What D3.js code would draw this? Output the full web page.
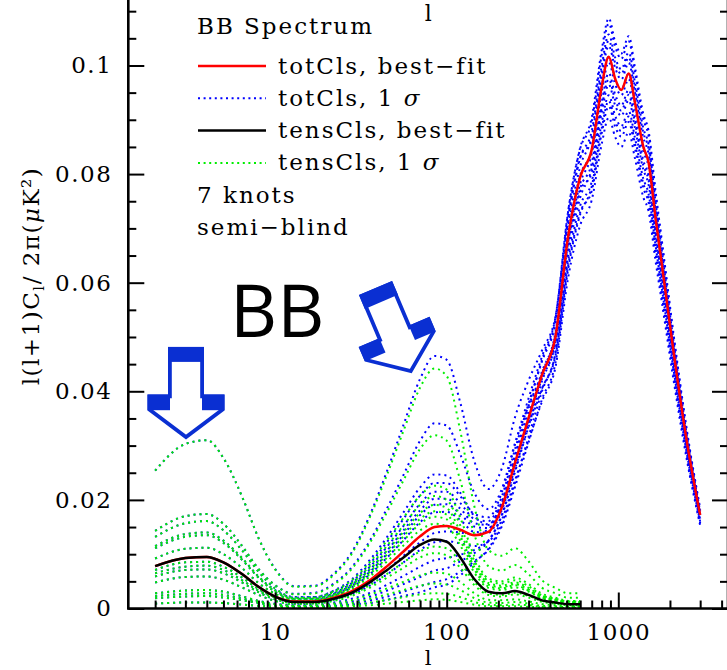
<!DOCTYPE html>
<html>
<head>
<meta charset="utf-8">
<script src="https://cdn.jsdelivr.net/npm/d3@7"></script>
<style>
  html, body { margin: 0; padding: 0; background: #fff; }
  svg { display: block; }
</style>
</head>
<body>
<svg id="chart" width="727" height="670" font-family="DejaVu Serif, serif"></svg>
<script>
// Multipole grid (the first 27 nodes also carry the tensor curves, which stop at l = 600)
const ell = [2, 3, 4, 5, 6.5, 8, 10, 13, 17, 22, 28, 36, 45, 56, 70, 85, 100, 120, 145, 175, 210, 250, 300, 360, 430, 510, 600,
             700, 800, 880, 960, 1040, 1150, 1250, 1400, 1500, 1650, 1800, 2100, 2500, 3000];

// Total BB spectrum, best fit (uK^2)
const totBest = [0.0078, 0.0093, 0.0095, 0.0085, 0.0062, 0.0040, 0.0022, 0.0013, 0.0013, 0.0020, 0.0032, 0.0053, 0.0078, 0.0105,
                 0.0133, 0.0150, 0.0152, 0.0145, 0.0135, 0.0141, 0.0187, 0.0268, 0.0351, 0.0431, 0.0500, 0.0685, 0.0795,
                 0.0845, 0.0961, 0.1016, 0.0975, 0.0955, 0.0985, 0.0932, 0.0850, 0.0822, 0.0718, 0.0630, 0.0472, 0.0310, 0.0172];

// Tensor BB spectrum, best fit
const tensBest = [0.0078, 0.0093, 0.0095, 0.0085, 0.0062, 0.0040, 0.0022, 0.0012, 0.0012, 0.0018, 0.0029, 0.0049, 0.0071, 0.0094,
                  0.0117, 0.0127, 0.0123, 0.0094, 0.0054, 0.0031, 0.0028, 0.0032, 0.0025, 0.0015, 0.0011, 0.0008, 0.0008];

// Tensor BB spectra within 1 sigma
const tensSigma = [
  [0.0254,0.0303,0.0310,0.0277,0.0202,0.0130,0.0072,0.0040,0.0041,0.0062,0.0101,0.0171,0.0247,0.0327,0.0407,0.0442,0.0428,0.0327,0.0188,0.0108,0.0097,0.0111,0.0087,0.0052,0.0038,0.0028,0.0028],
  [0.0143,0.0170,0.0174,0.0156,0.0113,0.0073,0.0043,0.0026,0.0028,0.0044,0.0073,0.0123,0.0178,0.0236,0.0294,0.0319,0.0309,0.0236,0.0136,0.0078,0.0070,0.0080,0.0063,0.0038,0.0028,0.0020,0.0020],
  [0.0132,0.0157,0.0161,0.0144,0.0105,0.0068,0.0037,0.0020,0.0020,0.0030,0.0047,0.0080,0.0116,0.0153,0.0191,0.0207,0.0200,0.0153,0.0088,0.0051,0.0046,0.0052,0.0041,0.0024,0.0018,0.0013,0.0013],
  [0.0115,0.0137,0.0140,0.0125,0.0091,0.0059,0.0033,0.0019,0.0020,0.0032,0.0052,0.0087,0.0126,0.0167,0.0208,0.0226,0.0219,0.0167,0.0096,0.0055,0.0050,0.0057,0.0045,0.0027,0.0020,0.0014,0.0014],
  [0.0111,0.0132,0.0135,0.0121,0.0088,0.0057,0.0031,0.0017,0.0017,0.0025,0.0041,0.0069,0.0100,0.0133,0.0165,0.0179,0.0173,0.0133,0.0076,0.0044,0.0039,0.0045,0.0035,0.0021,0.0016,0.0011,0.0011],
  [0.0092,0.0110,0.0112,0.0100,0.0073,0.0047,0.0027,0.0016,0.0017,0.0026,0.0044,0.0074,0.0107,0.0141,0.0176,0.0191,0.0185,0.0141,0.0081,0.0047,0.0042,0.0048,0.0038,0.0023,0.0017,0.0012,0.0012],
  [0.0071,0.0085,0.0086,0.0077,0.0056,0.0036,0.0021,0.0013,0.0014,0.0022,0.0036,0.0060,0.0087,0.0116,0.0144,0.0156,0.0151,0.0116,0.0066,0.0038,0.0034,0.0039,0.0031,0.0018,0.0014,0.0010,0.0010],
  [0.0065,0.0077,0.0079,0.0071,0.0051,0.0033,0.0020,0.0013,0.0014,0.0023,0.0039,0.0065,0.0094,0.0125,0.0156,0.0169,0.0164,0.0125,0.0072,0.0041,0.0037,0.0043,0.0033,0.0020,0.0015,0.0011,0.0011],
  [0.0059,0.0071,0.0072,0.0065,0.0047,0.0030,0.0017,0.0010,0.0010,0.0016,0.0026,0.0044,0.0064,0.0085,0.0105,0.0114,0.0111,0.0085,0.0049,0.0028,0.0025,0.0029,0.0023,0.0014,0.0010,0.0007,0.0007],
  [0.0048,0.0058,0.0059,0.0053,0.0038,0.0025,0.0014,0.0008,0.0009,0.0014,0.0023,0.0039,0.0057,0.0075,0.0094,0.0102,0.0098,0.0075,0.0043,0.0025,0.0022,0.0026,0.0020,0.0012,0.0009,0.0006,0.0006],
  [0.0028,0.0033,0.0034,0.0031,0.0022,0.0014,0.0008,0.0005,0.0006,0.0009,0.0015,0.0026,0.0037,0.0049,0.0061,0.0066,0.0064,0.0049,0.0028,0.0016,0.0015,0.0017,0.0013,0.0008,0.0006,0.0004,0.0004],
  [0.0023,0.0027,0.0028,0.0025,0.0018,0.0012,0.0007,0.0004,0.0004,0.0006,0.0010,0.0018,0.0026,0.0034,0.0042,0.0046,0.0044,0.0034,0.0019,0.0011,0.0010,0.0012,0.0009,0.0005,0.0004,0.0003,0.0003],
  [0.0019,0.0022,0.0023,0.0020,0.0015,0.0010,0.0005,0.0003,0.0003,0.0004,0.0006,0.0011,0.0016,0.0021,0.0026,0.0028,0.0027,0.0021,0.0012,0.0007,0.0006,0.0007,0.0006,0.0003,0.0002,0.0002,0.0002],
  [0.0009,0.0011,0.0011,0.0010,0.0007,0.0005,0.0003,0.0002,0.0002,0.0002,0.0004,0.0006,0.0009,0.0012,0.0015,0.0017,0.0016,0.0012,0.0007,0.0004,0.0004,0.0004,0.0003,0.0002,0.0001,0.0001,0.0001]
];

// Total BB spectra within 1 sigma
const totSigma = [
  [0.0254,0.0303,0.0310,0.0277,0.0202,0.0130,0.0073,0.0041,0.0042,0.0064,0.0104,0.0175,0.0254,0.0338,0.0423,0.0465,0.0458,0.0379,0.0271,0.0220,0.0259,0.0352,0.0420,0.0476,0.0537,0.0719,0.0831,0.0862,0.0980,0.1036,0.0995,0.0974,0.1005,0.0951,0.0867,0.0838,0.0732,0.0643,0.0481,0.0316,0.0175],
  [0.0143,0.0170,0.0174,0.0156,0.0113,0.0073,0.0043,0.0027,0.0029,0.0046,0.0076,0.0127,0.0185,0.0246,0.0309,0.0341,0.0337,0.0284,0.0213,0.0183,0.0221,0.0304,0.0373,0.0433,0.0493,0.0663,0.0768,0.0803,0.0913,0.0965,0.0926,0.0907,0.0936,0.0885,0.0808,0.0781,0.0682,0.0599,0.0448,0.0295,0.0163],
  [0.0132,0.0157,0.0161,0.0144,0.0105,0.0068,0.0037,0.0021,0.0021,0.0032,0.0050,0.0084,0.0123,0.0165,0.0208,0.0231,0.0231,0.0207,0.0174,0.0168,0.0215,0.0302,0.0387,0.0465,0.0536,0.0731,0.0847,0.0896,0.1019,0.1077,0.1034,0.1012,0.1044,0.0988,0.0901,0.0871,0.0761,0.0668,0.0500,0.0329,0.0182],
  [0.0115,0.0137,0.0140,0.0125,0.0091,0.0059,0.0034,0.0020,0.0021,0.0033,0.0054,0.0091,0.0132,0.0177,0.0223,0.0247,0.0245,0.0213,0.0170,0.0155,0.0195,0.0272,0.0342,0.0406,0.0465,0.0630,0.0730,0.0769,0.0875,0.0925,0.0887,0.0869,0.0896,0.0848,0.0774,0.0748,0.0653,0.0573,0.0430,0.0282,0.0157],
  [0.0111,0.0132,0.0135,0.0121,0.0088,0.0057,0.0031,0.0018,0.0018,0.0027,0.0044,0.0073,0.0107,0.0144,0.0181,0.0202,0.0202,0.0184,0.0157,0.0154,0.0198,0.0281,0.0361,0.0437,0.0505,0.0688,0.0798,0.0845,0.0961,0.1016,0.0975,0.0955,0.0985,0.0932,0.0850,0.0822,0.0718,0.0630,0.0472,0.0310,0.0172],
  [0.0092,0.0110,0.0112,0.0100,0.0073,0.0047,0.0027,0.0017,0.0018,0.0028,0.0047,0.0078,0.0114,0.0152,0.0193,0.0215,0.0215,0.0194,0.0165,0.0161,0.0207,0.0293,0.0377,0.0456,0.0526,0.0716,0.0830,0.0879,0.0999,0.1057,0.1014,0.0993,0.1024,0.0969,0.0884,0.0855,0.0747,0.0655,0.0491,0.0322,0.0179],
  [0.0071,0.0085,0.0086,0.0077,0.0056,0.0036,0.0021,0.0013,0.0014,0.0023,0.0039,0.0064,0.0094,0.0126,0.0159,0.0177,0.0178,0.0163,0.0141,0.0140,0.0182,0.0258,0.0334,0.0405,0.0469,0.0640,0.0742,0.0786,0.0894,0.0945,0.0907,0.0888,0.0916,0.0867,0.0791,0.0764,0.0668,0.0586,0.0439,0.0288,0.0160],
  [0.0065,0.0077,0.0079,0.0071,0.0051,0.0033,0.0020,0.0014,0.0015,0.0025,0.0042,0.0069,0.0101,0.0136,0.0172,0.0191,0.0192,0.0174,0.0151,0.0148,0.0191,0.0272,0.0349,0.0424,0.0489,0.0668,0.0774,0.0820,0.0932,0.0986,0.0946,0.0926,0.0955,0.0904,0.0825,0.0797,0.0696,0.0611,0.0458,0.0301,0.0167],
  [0.0059,0.0071,0.0072,0.0065,0.0047,0.0030,0.0017,0.0011,0.0011,0.0018,0.0029,0.0048,0.0071,0.0097,0.0122,0.0139,0.0142,0.0140,0.0136,0.0146,0.0195,0.0282,0.0372,0.0459,0.0533,0.0731,0.0849,0.0904,0.1028,0.1087,0.1043,0.1022,0.1054,0.0997,0.0910,0.0880,0.0768,0.0674,0.0505,0.0332,0.0184],
  [0.0048,0.0058,0.0059,0.0053,0.0038,0.0025,0.0014,0.0009,0.0010,0.0016,0.0026,0.0043,0.0063,0.0085,0.0108,0.0122,0.0124,0.0120,0.0115,0.0123,0.0164,0.0236,0.0310,0.0382,0.0444,0.0609,0.0706,0.0752,0.0855,0.0904,0.0868,0.0850,0.0877,0.0829,0.0757,0.0732,0.0639,0.0561,0.0420,0.0276,0.0153],
  [0.0028,0.0033,0.0034,0.0031,0.0022,0.0014,0.0009,0.0006,0.0007,0.0011,0.0018,0.0029,0.0044,0.0060,0.0077,0.0089,0.0093,0.0099,0.0108,0.0125,0.0172,0.0251,0.0336,0.0420,0.0490,0.0674,0.0783,0.0837,0.0951,0.1006,0.0965,0.0945,0.0975,0.0923,0.0842,0.0814,0.0711,0.0624,0.0467,0.0307,0.0170],
  [0.0023,0.0027,0.0028,0.0025,0.0018,0.0012,0.0007,0.0005,0.0005,0.0008,0.0013,0.0022,0.0033,0.0045,0.0058,0.0070,0.0074,0.0087,0.0102,0.0124,0.0174,0.0255,0.0345,0.0433,0.0508,0.0700,0.0814,0.0870,0.0990,0.1046,0.1004,0.0984,0.1015,0.0960,0.0876,0.0847,0.0740,0.0649,0.0486,0.0319,0.0177],
  [0.0019,0.0022,0.0023,0.0020,0.0015,0.0010,0.0005,0.0004,0.0004,0.0006,0.0009,0.0015,0.0022,0.0031,0.0041,0.0049,0.0054,0.0068,0.0087,0.0108,0.0152,0.0224,0.0306,0.0386,0.0452,0.0625,0.0726,0.0777,0.0884,0.0935,0.0897,0.0879,0.0906,0.0857,0.0782,0.0756,0.0661,0.0580,0.0434,0.0285,0.0158],
  [0.0009,0.0011,0.0011,0.0010,0.0007,0.0005,0.0003,0.0003,0.0003,0.0004,0.0007,0.0010,0.0016,0.0023,0.0030,0.0039,0.0044,0.0061,0.0085,0.0110,0.0157,0.0231,0.0316,0.0401,0.0470,0.0651,0.0757,0.0811,0.0923,0.0975,0.0936,0.0917,0.0946,0.0895,0.0816,0.0789,0.0689,0.0605,0.0453,0.0298,0.0165]
];

// Axis ticks
const yMajor = [0, 0.02, 0.04, 0.06, 0.08, 0.1];
const yLabels = ["0", "0.02", "0.04", "0.06", "0.08", "0.1"];
const yMinor = [0.005, 0.01, 0.015, 0.025, 0.03, 0.035, 0.045, 0.05, 0.055, 0.065, 0.07, 0.075, 0.085, 0.09, 0.095, 0.105, 0.11];
const xMajor = [10, 100, 1000];
const xLabels = ["10", "100", "1000"];
const xMinor = [2, 3, 4, 5, 6, 7, 8, 9, 20, 30, 40, 50, 60, 70, 80, 90, 200, 300, 400, 500, 600, 700, 800, 900, 2000, 3000, 4000];

// Legend entries
const legendItems = [
  { label: "totCls, best\u2212fit", sigma: false, color: "#ff0000", dotted: false },
  { label: "totCls, 1 ", sigma: true, color: "#0000ff", dotted: true },
  { label: "tensCls, best\u2212fit", sigma: false, color: "#000000", dotted: false },
  { label: "tensCls, 1 ", sigma: true, color: "#00ee00", dotted: true }
];

(function draw() {
  const W = 727, H = 670;
  const plotLeft = 128.3, plotRight = 728, plotBottom = 608.5, plotTop = -2.4;

  const svg = d3.select("#chart");
  svg.append("rect").attr("width", W).attr("height", H).attr("fill", "#fff");

  const x = d3.scaleLog().domain([1.395, 4358]).range([plotLeft, plotRight]);
  const y = d3.scaleLinear().domain([0, 0.1125]).range([plotBottom, plotTop]);

  const line = d3.line()
    .x(d => x(d[0]))
    .y(d => y(d[1]))
    .curve(d3.curveMonotoneX);

  const pairs = vals => vals.map((v, i) => [ell[i], v]);

  const BLUE = "#0000ff", GREEN = "#00ee00";
  const curves = svg.append("g");

  // 1-sigma totals (dotted blue)
  curves.selectAll("path.tot").data(totSigma).join("path")
    .attr("class", "tot")
    .attr("d", d => line(pairs(d)))
    .attr("fill", "none").attr("stroke", BLUE)
    .attr("stroke-width", 2).attr("stroke-dasharray", "2,4");

  // 1-sigma tensors (dotted green)
  curves.selectAll("path.tens").data(tensSigma).join("path")
    .attr("class", "tens")
    .attr("d", d => line(pairs(d)))
    .attr("fill", "none").attr("stroke", GREEN)
    .attr("stroke-width", 2).attr("stroke-dasharray", "2,4");

  // Best fits
  curves.append("path").attr("d", line(pairs(totBest)))
    .attr("fill", "none").attr("stroke", "#ff0000").attr("stroke-width", 2.5);
  curves.append("path").attr("d", line(pairs(tensBest)))
    .attr("fill", "none").attr("stroke", "#000").attr("stroke-width", 2.5);

  // Axes (ticks point into the frame)
  const fontAxis = g => g.selectAll("text")
    .attr("font-family", "DejaVu Serif, serif").attr("font-size", 23)
    .attr("letter-spacing", "1.5px").attr("fill", "#000");

  const axB = svg.append("g").attr("transform", `translate(0,${plotBottom})`);
  axB.append("g").call(d3.axisBottom(x).tickValues(xMajor).tickSize(-16).tickPadding(15)
    .tickFormat((d, i) => xLabels[i])).call(fontAxis);
  axB.append("g").call(d3.axisBottom(x).tickValues(xMinor).tickSize(-8).tickFormat(""));

  const axL = svg.append("g").attr("transform", `translate(${plotLeft},0)`);
  axL.append("g").call(d3.axisLeft(y).tickValues(yMajor).tickSize(-16).tickPadding(16)
    .tickFormat((d, i) => yLabels[i])).call(fontAxis);
  axL.append("g").call(d3.axisLeft(y).tickValues(yMinor).tickSize(-8).tickFormat(""));

  const axR = svg.append("g").attr("transform", `translate(${plotRight},0)`);
  axR.append("g").call(d3.axisRight(y).tickValues(yMajor).tickSize(-16).tickFormat(""));
  axR.append("g").call(d3.axisRight(y).tickValues(yMinor).tickSize(-8).tickFormat(""));

  svg.selectAll(".domain").remove();
  svg.selectAll(".tick line").attr("stroke", "#000").attr("stroke-width", 2);

  // Frame
  svg.append("path")
    .attr("d", `M${plotLeft},${plotTop} V${plotBottom} H${plotRight} V${plotTop}`)
    .attr("fill", "none").attr("stroke", "#000").attr("stroke-width", 2.6);

  // Axis titles
  svg.append("text").attr("x", (plotLeft + plotRight) / 2).attr("y", 665)
    .attr("text-anchor", "middle").attr("font-size", 21).text("l");
  svg.append("text").attr("x", (plotLeft + plotRight) / 2).attr("y", 21)
    .attr("text-anchor", "middle").attr("font-size", 22).text("l");

  const yt = svg.append("text")
    .attr("transform", "translate(39,276) rotate(-90)")
    .attr("text-anchor", "middle").attr("font-size", 23).attr("letter-spacing", "1.5px");
  yt.append("tspan").text("l(l+1)C");
  yt.append("tspan").attr("font-size", 15).attr("dy", 5).text("l");
  yt.append("tspan").attr("dy", -5).text("/ 2\u03c0(");
  yt.append("tspan").attr("font-style", "italic").text("\u03bc");
  yt.append("tspan").text("K\u00b2)");

  // Legend
  const lg = svg.append("g").attr("font-size", 23).attr("letter-spacing", "2px");
  lg.append("text").attr("x", 197).attr("y", 34).text("BB Spectrum");
  legendItems.forEach((it, i) => {
    const ly = 66 + i * 32.3;
    lg.append("line").attr("x1", 198).attr("x2", 266).attr("y1", ly).attr("y2", ly)
      .attr("stroke", it.color).attr("stroke-width", it.dotted ? 2 : 2.5)
      .attr("stroke-dasharray", it.dotted ? "2,3.6" : null);
    const t = lg.append("text").attr("x", 278).attr("y", ly + 7.5);
    t.append("tspan").text(it.label);
    if (it.sigma) t.append("tspan").attr("font-style", "italic").text("\u03c3");
  });
  lg.append("text").attr("x", 197).attr("y", 202.5).text("7 knots");
  lg.append("text").attr("x", 197).attr("y", 235).text("semi\u2212blind");

  // Big annotation
  svg.append("text").attr("x", 230).attr("y", 337)
    .attr("font-family", "Open Sans, Noto Sans, sans-serif").attr("font-size", 73)
    .text("BB");

  // Hollow block arrows
  const ARROW = "#0a2fd2";
  function blockArrow(g) {
    g.append("path")
      .attr("d", "M-16.1,-90.7 H16.1 V-43.1 H36.6 V-30 L0,-2.4 L-36.6,-30 V-43.1 H-16.1 Z")
      .attr("fill", "#fff").attr("stroke", ARROW).attr("stroke-width", 3.8)
      .attr("stroke-linejoin", "miter");
    g.append("rect").attr("x", -18).attr("y", -92.6).attr("width", 36).attr("height", 15).attr("fill", ARROW);
    g.append("rect").attr("x", -38.5).attr("y", -45).attr("width", 22.5).attr("height", 15.7).attr("fill", ARROW);
    g.append("rect").attr("x", 16).attr("y", -45).attr("width", 22.5).attr("height", 15.7).attr("fill", ARROW);
  }
  blockArrow(svg.append("g").attr("transform", "translate(186,439.5)"));
  blockArrow(svg.append("g").attr("transform", "translate(411.7,373.3) rotate(-23)"));
})();
</script>
</body>
</html>
